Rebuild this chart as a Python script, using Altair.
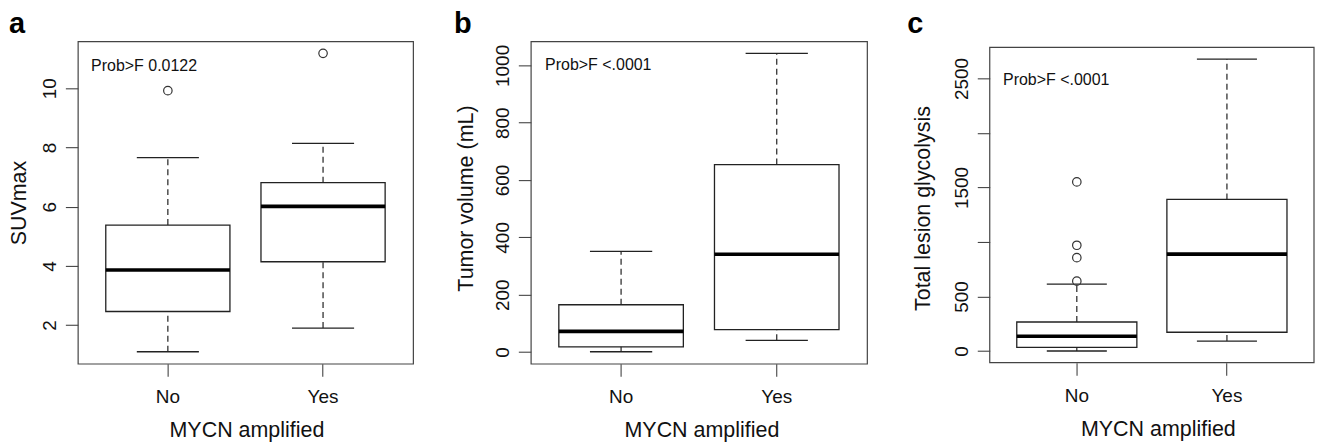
import altair as alt
import pandas as pd

FONT = "Liberation Sans"

categories = ["No", "Yes"]
panel_letters = ["a", "b", "c"]
prob_labels = ["Prob>F 0.0122", "Prob>F <.0001", "Prob>F <.0001"]
y_titles = ["SUVmax", "Tumor volume (mL)", "Total lesion glycolysis"]
x_title = "MYCN amplified"

# Panel a: SUVmax
suv_lower = [1.10, 1.90]
suv_q1 = [2.46, 4.14]
suv_median = [3.86, 6.01]
suv_q3 = [5.38, 6.81]
suv_upper = [7.66, 8.14]
suv_out_group = ["No", "Yes"]
suv_out_value = [9.92, 11.18]
suv_ticks = [2, 4, 6, 8, 10]
suv_tick_labels = ["2", "4", "6", "8", "10"]

# Panel b: Tumor volume (mL)
vol_lower = [1, 41]
vol_q1 = [18, 78]
vol_median = [72, 341]
vol_q3 = [165, 654]
vol_upper = [351, 1042]
vol_out_group = []
vol_out_value = []
vol_ticks = [0, 200, 400, 600, 800, 1000]
vol_tick_labels = ["0", "200", "400", "600", "800", "1000"]

# Panel c: Total lesion glycolysis
tlg_lower = [0, 91]
tlg_q1 = [33, 172]
tlg_median = [136, 889]
tlg_q3 = [266, 1391]
tlg_upper = [614, 2678]
tlg_out_group = ["No", "No", "No", "No"]
tlg_out_value = [641, 856, 970, 1551]
tlg_ticks = [0, 500, 1000, 1500, 2000, 2500]
tlg_tick_labels = ["0", "500", "", "1500", "", "2500"]

LINE = "#222222"
FRAME = "#444444"

layouts = [
    dict(width=336, height=323, top=0, letter_dx=-69, letter_dy=-8.5, prob_dx=13.3, prob_dy=29.3,
         ytitle_x=-52, ytitle_y=161.5, xtitle_shift=1),
    dict(width=337, height=323, top=0, letter_dx=-77, letter_dy=-8.5, prob_dx=14.3, prob_dy=29.0,
         ytitle_x=-58.5, ytitle_y=157, xtitle_shift=2.5),
    dict(width=325, height=322, top=6, letter_dx=-82.8, letter_dy=-8.5, prob_dx=13.3, prob_dy=43.3,
         ytitle_x=-60.5, ytitle_y=167, xtitle_shift=6),
]


def panel(i, lower, q1, median, q3, upper, out_group, out_value, ticks, tick_labels):
    L = layouts[i]
    W, H, T = L["width"], L["height"], L["top"]
    step = W / (len(categories) - 0.2 + 2 * 0.18)

    box_df = pd.DataFrame({"group": categories, "lower": lower, "q1": q1,
                           "median": median, "q3": q3, "upper": upper})
    vals = lower + upper + out_value
    lo, hi = min(vals), max(vals)
    ext = 0.04 * (hi - lo)
    yscale = alt.Scale(domain=[lo - ext, hi + ext], nice=False, zero=False, range=[H, T])
    xscale = alt.Scale(domain=categories, paddingInner=0.2, paddingOuter=0.18)

    hidden = [v for v, l in zip(ticks, tick_labels) if l == ""]
    label_expr = "datum.label"
    if hidden:
        label_expr = "indexof(%s, datum.value) >= 0 ? '' : datum.label" % str(hidden)

    xaxis = alt.Axis(title=x_title, domain=False, grid=False, labelAngle=0,
                     labelBaseline="alphabetic", labelPadding=26, tickSize=12.5,
                     titleX=W / 2 + L["xtitle_shift"], titleY=72.5, titleAlign="center",
                     titleBaseline="alphabetic", titleAngle=0)
    yaxis = alt.Axis(title=y_titles[i], values=ticks, format="d", labelExpr=label_expr,
                     domain=False, grid=False, labelAngle=270, labelAlign="center",
                     labelBaseline="alphabetic", labelPadding=9.5, tickSize=12.5,
                     titleX=L["ytitle_x"], titleY=L["ytitle_y"], titleAngle=270,
                     titleAlign="center", titleBaseline="alphabetic")

    def X():
        return alt.X("group:N", scale=xscale, axis=xaxis, sort=categories)

    def Y(f):
        return alt.Y(f + ":Q", scale=yscale, axis=yaxis)

    base = alt.Chart(box_df)
    box = base.mark_bar(fill="white", stroke=LINE, strokeWidth=1.3).encode(
        x=X(), y=Y("q1"), y2="q3:Q")
    whisk_hi = base.mark_rule(color=LINE, strokeWidth=1.2, strokeDash=[6, 4]).encode(
        x=X(), y=Y("q3"), y2="upper:Q")
    whisk_lo = base.mark_rule(color=LINE, strokeWidth=1.2, strokeDash=[6, 4]).encode(
        x=X(), y=Y("lower"), y2="q1:Q")
    cap_hi = base.mark_tick(color=LINE, size=0.4 * step, thickness=1.3, opacity=1).encode(
        x=X(), y=Y("upper"))
    cap_lo = base.mark_tick(color=LINE, size=0.4 * step, thickness=1.3, opacity=1).encode(
        x=X(), y=Y("lower"))
    med = base.mark_tick(color="black", size=0.8 * step, thickness=3.6, opacity=1).encode(
        x=X(), y=Y("median"))

    layers = []
    if T > 0:
        # plot frame (drawn as a decoration when the data region is inset from the view top)
        frame = alt.Chart(pd.DataFrame({"f": [0]})).mark_rect(
            fill="white", fillOpacity=0, stroke=FRAME, strokeWidth=1.2).encode(
            x=alt.value(0), x2=alt.value(W), y=alt.value(T), y2=alt.value(H))
        layers.append(frame)
    layers += [box, whisk_hi, whisk_lo, cap_hi, cap_lo, med]

    if out_value:
        out_df = pd.DataFrame({"group": out_group, "value": out_value})
        pts = alt.Chart(out_df).mark_point(shape="circle", filled=False, size=72,
                                           stroke="#333333", strokeWidth=1.2, opacity=1).encode(
            x=X(), y=Y("value"))
        layers.append(pts)

    letter = alt.Chart(pd.DataFrame({"t": [panel_letters[i]]})).mark_text(
        align="left", baseline="alphabetic", fontSize=29, fontWeight="bold",
        font=FONT, color="black").encode(
        x=alt.value(L["letter_dx"]), y=alt.value(L["letter_dy"]), text="t:N")
    prob = alt.Chart(pd.DataFrame({"t": [prob_labels[i]]})).mark_text(
        align="left", baseline="alphabetic", fontSize=16, font=FONT, color="#111111").encode(
        x=alt.value(L["prob_dx"]), y=alt.value(L["prob_dy"]), text="t:N")
    layers += [prob, letter]

    ch = alt.layer(*layers).properties(width=W, height=H)
    if T > 0:
        ch = ch.properties(view=alt.ViewBackground(strokeWidth=0, strokeOpacity=0))
    return ch


pa = panel(0, suv_lower, suv_q1, suv_median, suv_q3, suv_upper,
           suv_out_group, suv_out_value, suv_ticks, suv_tick_labels)
pb = panel(1, vol_lower, vol_q1, vol_median, vol_q3, vol_upper,
           vol_out_group, vol_out_value, vol_ticks, vol_tick_labels)
pc = panel(2, tlg_lower, tlg_q1, tlg_median, tlg_q3, tlg_upper,
           tlg_out_group, tlg_out_value, tlg_ticks, tlg_tick_labels)

chart = alt.hconcat(pa, pb, pc, spacing=39).properties(
    padding={"left": 0, "top": 0, "right": 0, "bottom": 0},
    background="white",
).configure_view(
    stroke=FRAME, strokeWidth=1.2
).configure_axis(
    labelFont=FONT, titleFont=FONT, labelFontSize=19, titleFontSize=21.5,
    labelColor="#111111", titleColor="#111111", titleFontWeight="normal",
    tickColor="#444444", tickWidth=1.1,
)

chart.save("out.html", embed_options={"renderer": "svg", "actions": False})
